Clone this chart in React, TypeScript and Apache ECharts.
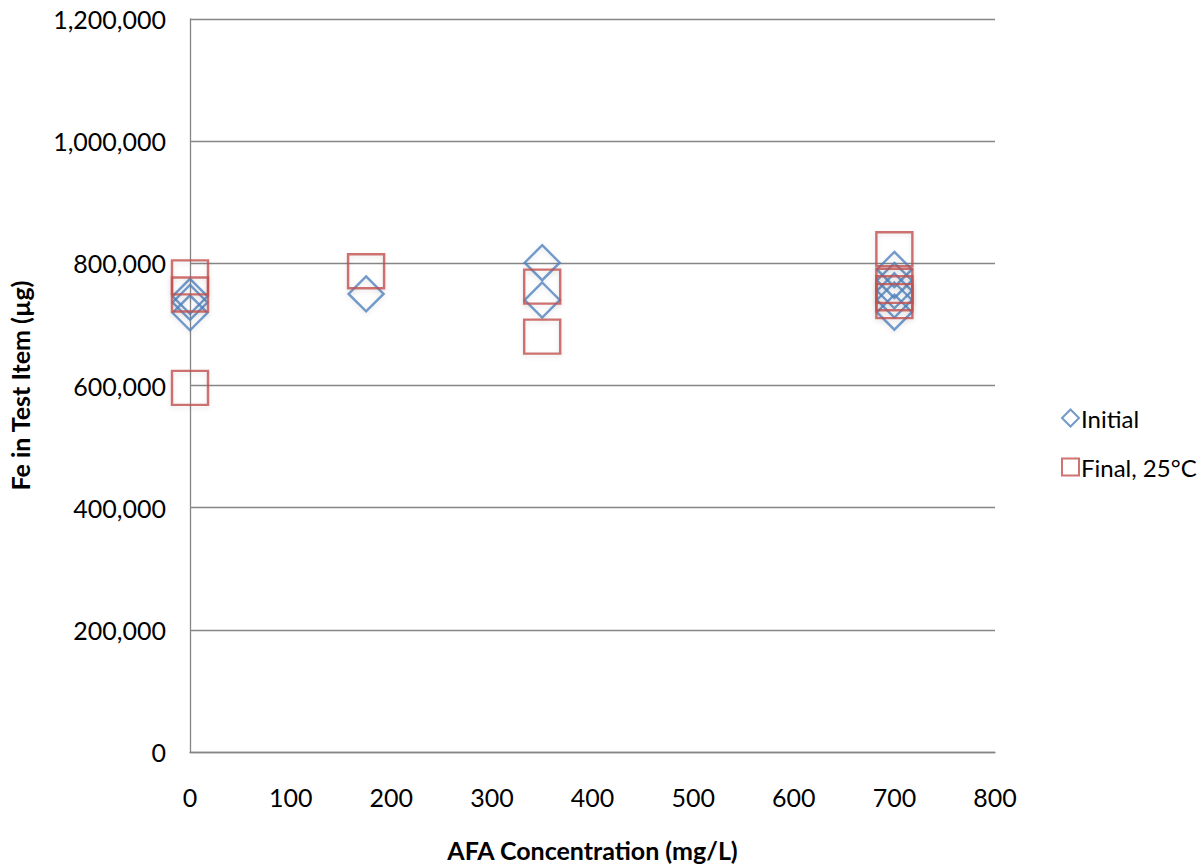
import React, { useEffect, useRef } from "react";
import * as echarts from "echarts";

// AFA concentration (mg/L) and Fe amount (µg) for each measurement
const initialConc = [0, 0, 0, 175, 350, 350, 700, 700, 700, 700, 700];
const initialFe = [746000, 736000, 719000, 750000, 801000, 740000, 790000, 772000, 755000, 740000, 720000];

const finalConc = [0, 0, 0, 175, 350, 350, 700, 700, 700, 700];
const finalFe = [777000, 749000, 596000, 787000, 762000, 680000, 823000, 763000, 751000, 738000];

const seriesNames = ["Initial", "Final, 25°C"];
const xTitle = "AFA Concentration (mg/L)";
const yTitle = "Fe in Test Item (µg)";

const FONT = "Lato, 'Open Sans', sans-serif";

const pairs = (xs: number[], ys: number[]) => xs.map((x, i) => [x, ys[i]]);

export default function App() {
  const ref = useRef<HTMLDivElement>(null);

  useEffect(() => {
    if (!ref.current) return;
    const chart = echarts.init(ref.current, undefined, { renderer: "svg" });
    const markerShadow = {
      shadowColor: "rgba(0,0,0,0.12)",
      shadowBlur: 5,
      shadowOffsetY: 2,
    };
    chart.setOption({
      animation: false,
      backgroundColor: "#ffffff",
      textStyle: { fontFamily: FONT },
      grid: { left: 190, right: 208, top: 19, bottom: 115, outerBoundsMode: "none" },
      legend: {
        orient: "vertical",
        left: 1056,
        top: 401,
        itemGap: 25,
        itemWidth: 17,
        itemHeight: 17,
        textStyle: { fontSize: 24, color: "#000", fontFamily: FONT, padding: [0, 0, 0, -3] },
        data: seriesNames,
      },
      xAxis: {
        type: "value",
        min: 0,
        max: 800,
        interval: 100,
        name: xTitle,
        nameLocation: "middle",
        nameGap: 85,
        nameTextStyle: { fontSize: 25, fontWeight: "bold", color: "#000", fontFamily: FONT },
        axisLine: { show: true, lineStyle: { color: "#868686", width: 1.3 } },
        axisTick: { show: false },
        splitLine: { show: false },
        axisLabel: { fontSize: 25, color: "#000", margin: 32, fontFamily: FONT },
      },
      yAxis: {
        type: "value",
        min: 0,
        max: 1200000,
        interval: 200000,
        name: yTitle,
        nameLocation: "middle",
        nameGap: 158,
        nameTextStyle: { fontSize: 25, fontWeight: "bold", color: "#000", fontFamily: FONT },
        axisLine: { show: true, lineStyle: { color: "#868686", width: 1.3 } },
        axisTick: { show: false },
        splitLine: { show: true, lineStyle: { color: "#868686", width: 1.3 } },
        axisLabel: {
          fontSize: 25,
          color: "#000",
          margin: 24,
          fontFamily: FONT,
          formatter: (v: number) => v.toLocaleString("en-US"),
        },
      },
      series: [
        {
          name: seriesNames[0],
          type: "scatter",
          clip: false,
          symbol: "diamond",
          symbolSize: 35,
          data: pairs(initialConc, initialFe),
          itemStyle: { color: "rgba(0,0,0,0)", borderColor: "#4F81BD", borderWidth: 2.4, ...markerShadow },
        },
        {
          name: seriesNames[1],
          type: "scatter",
          clip: false,
          symbol: "rect",
          symbolSize: [36, 34],
          data: pairs(finalConc, finalFe),
          itemStyle: { color: "rgba(0,0,0,0)", borderColor: "#C0504D", borderWidth: 2.4, ...markerShadow },
        },
      ],
    });
    return () => chart.dispose();
  }, []);

  return (
    <div
      ref={ref}
      style={{ position: "absolute", left: 0, top: 0, width: 1203, height: 867 }}
    />
  );
}
